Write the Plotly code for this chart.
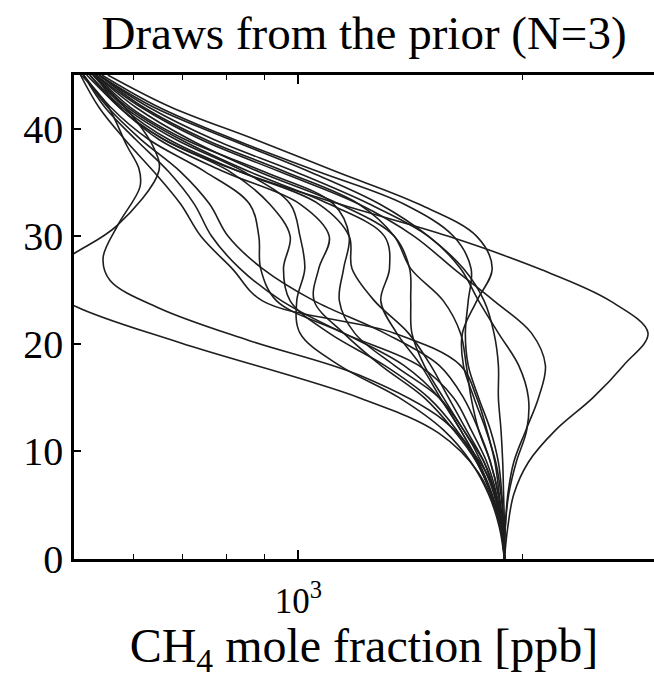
import math
import plotly.graph_objects as go

# Altitude levels (km) shared by most draws
y_levels = [0, 3, 6, 9, 12, 15, 18, 21, 24, 27, 30, 33, 36, 39, 42, 45]

# CH4 mole fraction [ppb] for each prior draw at y_levels
draw_a = [1890, 1910, 1945, 2035, 2215, 2485, 2730, 2945, 2620, 2100, 1590, 1135, 835, 660, 575, 535]
draw_b = [1890, 1885, 1870, 1840, 1785, 1720, 1665, 1660, 1735, 1820, 1735, 1450, 1125, 875, 675, 555]
draw_c = [1890, 1885, 1875, 1855, 1810, 1745, 1690, 1675, 1690, 1705, 1615, 1385, 1065, 820, 650, 545]
draw_d = [1890, 1875, 1840, 1775, 1665, 1565, 1475, 1420, 1415, 1410, 1345, 1135, 885, 715, 605, 535]
draw_e = [1890, 1870, 1820, 1745, 1650, 1550, 1460, 1355, 1290, 1325, 1305, 1100, 860, 695, 590, 530]
draw_f = [1890, 1880, 1855, 1810, 1745, 1705, 1680, 1650, 1565, 1415, 1345, 1205, 960, 750, 620, 540]
draw_g = [1890, 1875, 1835, 1775, 1680, 1590, 1505, 1405, 1265, 1180, 1170, 1065, 835, 670, 580, 525]
draw_h = [1890, 1870, 1815, 1735, 1615, 1475, 1290, 1150, 1050, 1065, 1100, 1005, 795, 650, 575, 520]
draw_i = [1890, 1870, 1815, 1740, 1650, 1545, 1385, 1150, 935, 890, 885, 860, 750, 630, 560, 515]
draw_j = [1890, 1870, 1815, 1735, 1630, 1495, 1305, 1100, 975, 955, 975, 915, 810, 660, 575, 525]
draw_k = [1890, 1880, 1860, 1835, 1790, 1735, 1650, 1345, 895, 815, 740, 695, 640, 585, 540, 510]
draw_l = [1890, 1875, 1845, 1790, 1705, 1615, 1450, 1150, 950, 835, 765, 725, 670, 605, 550, 515]
draw_m = [1890, 1880, 1855, 1810, 1745, 1665, 1545, 1305, 1050, 895, 805, 760, 695, 615, 555, 515]
draw_n = [1890, 1860, 1800, 1705, 1565, 1365, 1135, 1005, 995, 1020, 1005, 975, 845, 685, 585, 530]
draw_o = [1890, 1870, 1830, 1760, 1665, 1545, 1345, 1190, 1135, 1150, 1170, 1115, 900, 705, 595, 535]
draw_q = [1890, 1890, 1885, 1880, 1870, 1855, 1855, 1830, 1775, 1665, 1495, 1285, 1035, 810, 640, 540]
draw_r1 = [1890, 1895, 1910, 1945, 2020, 2100, 2145, 2055, 1830, 1615, 1430, 1205, 945, 740, 615, 535]
draw_r2 = [1890, 1895, 1915, 1960, 2025, 2035, 1975, 1855, 1745, 1650, 1495, 1245, 990, 770, 630, 540]

# Two draws with their own altitude sampling
sl_y = [0, 3.6, 8, 11.7, 15, 20.1, 23.5, 26, 28.4, 31, 36.1, 38.2, 41, 45]
sl_x = [1890, 1857, 1745, 1543, 1206, 694, 502, 440, 500, 571, 650, 640, 602, 532]
s1_y = [0, 5.5, 9.2, 12.9, 17.1, 20.3, 23.3, 25.9, 28, 31, 34.6, 36.3, 38.4, 42.3, 45]
s1_x = [1890, 1850, 1745, 1566, 1206, 860, 652, 559, 547, 572, 613, 611, 589, 553, 511]

grid_draws = [draw_a, draw_b, draw_c, draw_d, draw_e, draw_f, draw_g, draw_h, draw_i,
              draw_j, draw_k, draw_l, draw_m, draw_n, draw_o, draw_q, draw_r1, draw_r2]

y_ticks = [0, 10, 20, 30, 40]
x_major = [1000]
x_major_text = ["10<sup>3</sup>"]
x_minor = [500, 600, 700, 800, 900, 2000]

FONT = "Liberation Serif"
line_style = dict(color="#1e1e1e", width=1.6, shape="spline", smoothing=1.0)

fig = go.Figure()
for xs in grid_draws:
    fig.add_trace(go.Scatter(x=xs, y=y_levels, mode="lines", line=line_style,
                             showlegend=False, hoverinfo="skip"))
fig.add_trace(go.Scatter(x=sl_x, y=sl_y, mode="lines", line=line_style,
                         showlegend=False, hoverinfo="skip"))
fig.add_trace(go.Scatter(x=s1_x, y=s1_y, mode="lines", line=line_style,
                         showlegend=False, hoverinfo="skip"))

fig.update_layout(
    width=654, height=679,
    margin=dict(l=74, r=0, t=75, b=120),
    paper_bgcolor="white", plot_bgcolor="white",
    font=dict(family=FONT, color="black"),
    title=dict(text="Draws from the prior (N=3)", x=0.5, xref="paper", xanchor="center",
               y=1 - 33 / 679, yref="container", yanchor="middle",
               font=dict(family=FONT, size=47, color="black")),
    xaxis=dict(type="log", range=[math.log10(500), math.log10(3000)],
               tickmode="array", tickvals=x_major, ticktext=x_major_text,
               ticks="inside", ticklen=9, tickwidth=1.5, tickcolor="black",
               minor=dict(tickmode="array", tickvals=x_minor, ticks="inside", ticklen=5,
                          tickwidth=1.2, tickcolor="black", showgrid=False),
               showline=True, linecolor="black", linewidth=2.5, mirror="allticks",
               showgrid=False, zeroline=False,
               tickfont=dict(family=FONT, size=35, color="black"),
               ticklabelstandoff=9,
               title=dict(text="CH<sub>4</sub> mole fraction [ppb]",
                          font=dict(family=FONT, size=48, color="black"), standoff=14)),
    yaxis=dict(range=[0, 45], tickmode="array", tickvals=y_ticks,
               ticks="inside", ticklen=7, tickwidth=1.5, tickcolor="black",
               showline=True, linecolor="black", linewidth=2.5, mirror=False,
               showgrid=False, zeroline=False,
               tickfont=dict(family=FONT, size=40, color="black")),
    yaxis2=dict(range=[0, 45], overlaying="y", side="right", tickmode="array",
                tickvals=y_ticks, ticks="inside", ticklen=7, tickwidth=1.5,
                tickcolor="black", showticklabels=False, showline=False,
                showgrid=False, zeroline=False),
)

fig.write_html("out.html")
